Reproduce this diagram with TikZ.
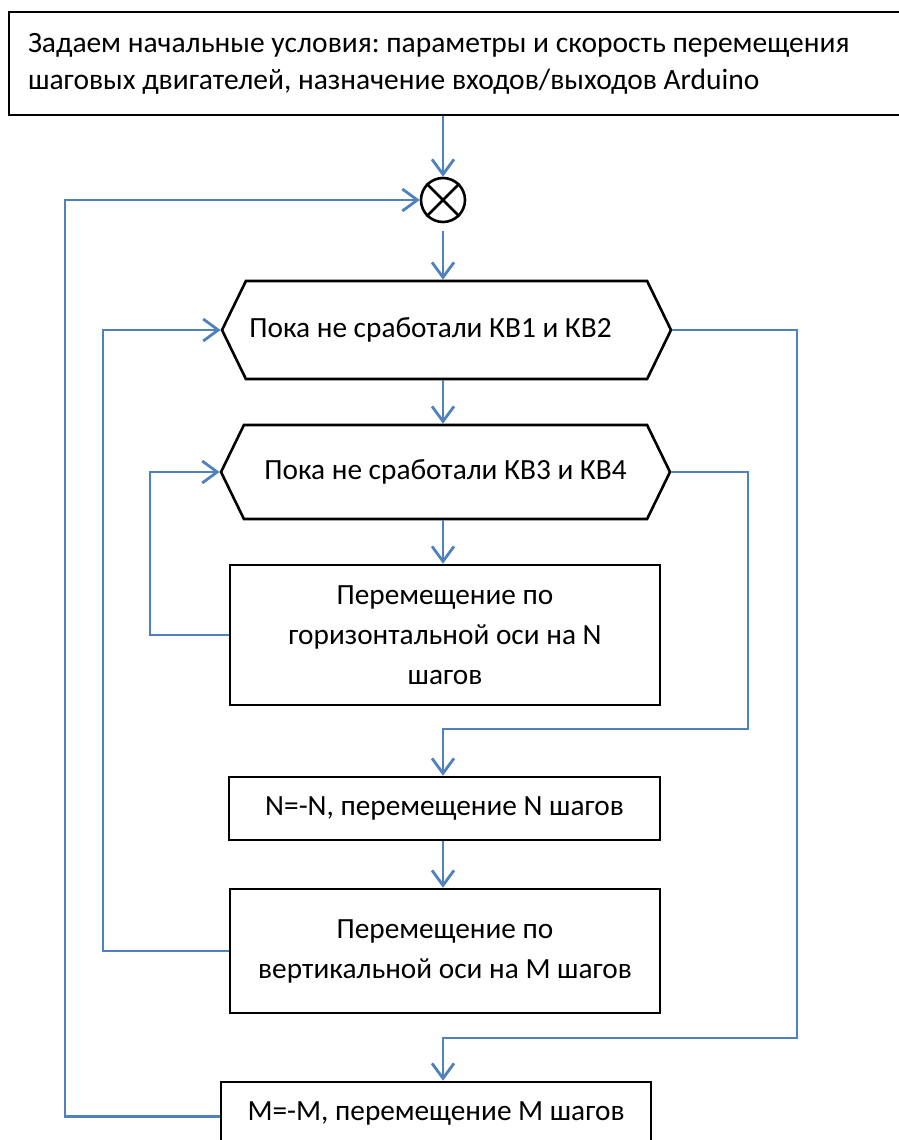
\documentclass[tikz,border=0pt]{standalone}
\usepackage{fontspec}
\setmainfont{Carlito}
\usepackage{xcolor}
\usepackage{tikz}
\usetikzlibrary{positioning,arrows.meta,calc,shapes.symbols}
\definecolor{linkblue}{HTML}{4F81BD}
\frenchspacing

\begin{document}
\begin{tikzpicture}[x=1pt, y=-1pt, >={Straight Barb[length=15pt, width=22pt]},
    box/.style={draw, line width=2.6pt, align=flush center, inner sep=0pt,
      font=\fontsize{29.3}{40}\selectfont},
    hexbox/.style={box, signal, signal to=west and east,
      signal pointer angle=128},
    link/.style={draw=linkblue, line width=2.8pt}]
  \useasboundingbox (0,0) rectangle (899,1140);

  % Setup block (runs off the right edge)
  \node[box, minimum width=901, minimum height=103, text width=863,
        align=flush left, font=\fontsize{29.5}{37}\selectfont]
    (init) at (459.5,63.5)
    {Задаем начальные условия: параметры и скорость перемещения\\
     шаговых двигателей, назначение входов/выходов Arduino};

  % Junction
  \node[draw, circle, line width=2.6pt, minimum size=44, inner sep=0pt]
    (junc) at (443,200) {};
  \draw[line width=2.6pt] (junc.north west) -- (junc.south east)
    (junc.north east) -- (junc.south west);

  % Outer and inner loops
  \node[hexbox, minimum width=449, minimum height=98] (loop1) at (446.5,330)
    {Пока не сработали КВ1 и КВ2\hspace*{32pt}};
  \node[hexbox, minimum width=449, minimum height=94] (loop2) at (445.5,472)
    {Пока не сработали КВ3 и КВ4};

  % Actions
  \node[box, minimum width=430, minimum height=140] (moveh) at (445,635)
    {Перемещение по\\горизонтальной оси на N\\шагов};
  \node[box, minimum width=431, minimum height=63] (flipn) at (444.5,808.5)
    {N=-N, перемещение N шагов};
  \node[box, minimum width=430, minimum height=124] (movev) at (445,951)
    {Перемещение по\\вертикальной оси на M шагов};
  \node[box, minimum width=430, minimum height=63] (flipm) at (436,1113.5)
    {M=-M, перемещение M шагов};

  % Turning points of the loop lines
  \coordinate (backm) at (65,0);
  \coordinate (back1) at (103,0);
  \coordinate (back2) at (150,0);
  \coordinate (exit1) at (797,1038);
  \coordinate (exit2) at (748,729);

  % Straight flow
  \draw[link, ->] (init.south -| junc) -- (junc);
  \draw[link, ->] ([yshift=-8pt]junc.south) -- (loop1.north -| junc);
  \draw[link, ->] (loop1.south -| junc) -- (loop2.north -| junc);
  \draw[link, ->] (loop2.south -| junc) -- (moveh.north -| junc);
  \draw[link, ->] (flipn.south -| junc) -- (movev.north -| junc);

  % Loop exits
  \draw[link, ->] (loop2.east) -| (exit2) -| (flipn.north -| junc);
  \draw[link, ->] (loop1.east) -| (exit1) -| (flipm.north -| junc);

  % Loop returns
  \draw[link, ->] (moveh.west) -| (back2 |- loop2.west) -- (loop2.west);
  \draw[link, ->] (movev.west) -| (back1 |- loop1.west) -- (loop1.west);
  \draw[link, ->] ([yshift=-3pt]flipm.west) -| (backm |- junc) -- (junc.west);
\end{tikzpicture}
\end{document}
